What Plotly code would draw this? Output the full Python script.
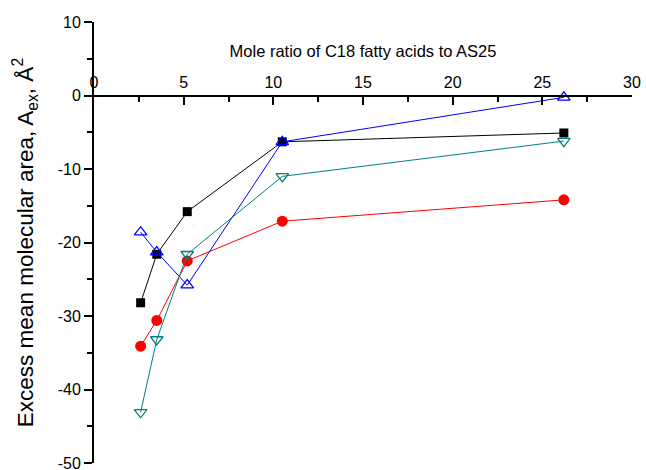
import plotly.graph_objects as go

ratio = [2.6, 3.5, 5.2, 10.5, 26.2]
series_black = [-28.2, -21.6, -15.8, -6.3, -5.1]
series_red = [-34.1, -30.6, -22.5, -17.1, -14.2]
series_blue = [-18.6, -21.3, -25.8, -6.3, -0.25]
series_teal = [-43.1, -33.2, -21.6, -11.0, -6.2]

x_ticks = [0, 5, 10, 15, 20, 25, 30]
x_tick_labels = ["0", "5", "10", "15", "20", "25", "30"]
y_ticks = [-50, -40, -30, -20, -10, 0, 10]
y_tick_labels = ["-50", "-40", "-30", "-20", "-10", "0", "10"]

FONT = "Liberation Sans, Arial, sans-serif"

fig = go.Figure()
fig.add_trace(go.Scatter(x=ratio, y=series_black, mode="lines+markers",
                         line=dict(color="#000000", width=1),
                         marker=dict(symbol="square", size=9, color="#000000")))
fig.add_trace(go.Scatter(x=ratio, y=series_red, mode="lines+markers",
                         line=dict(color="#ff0000", width=1),
                         marker=dict(symbol="circle", size=11, color="#ff0000")))
fig.add_trace(go.Scatter(x=ratio, y=series_blue, mode="lines+markers",
                         line=dict(color="#0000ff", width=1),
                         marker=dict(symbol="triangle-up-open", size=11, color="#0000ff",
                                     line=dict(width=1.3))))
fig.add_trace(go.Scatter(x=ratio, y=series_teal, mode="lines+markers",
                         line=dict(color="#008080", width=1),
                         marker=dict(symbol="triangle-down-open", size=11, color="#008080",
                                     line=dict(width=1.3))))

fig.update_layout(
    width=646, height=470,
    margin=dict(l=94, r=14, t=22, b=7),
    paper_bgcolor="white", plot_bgcolor="white",
    showlegend=False,
    font=dict(family=FONT, size=16, color="black"),
    xaxis=dict(
        range=[0, 30], tickvals=x_ticks, ticktext=x_tick_labels,
        side="top", anchor="free", position=50 / 60, automargin=False,
        ticklabeloverflow="allow",
        showgrid=False, zeroline=False,
        showline=True, linecolor="black", linewidth=2,
        ticks="inside", ticklen=8, tickwidth=2, tickcolor="black",
        minor=dict(dtick=2.5, tick0=0, ticks="inside", ticklen=5, tickwidth=2,
                   tickcolor="black", showgrid=False),
        tickfont=dict(family=FONT, size=16),
        title=dict(text="Mole ratio of C18 fatty acids to AS25",
                   font=dict(family=FONT, size=16.5), standoff=11),
    ),
    yaxis=dict(
        range=[-50, 10], tickvals=y_ticks, ticktext=y_tick_labels, automargin=False,
        ticklabeloverflow="allow",
        showgrid=False, zeroline=False,
        showline=True, linecolor="black", linewidth=2,
        ticks="outside", ticklen=8, tickwidth=2, tickcolor="black",
        minor=dict(dtick=5, tick0=0, ticks="outside", ticklen=5, tickwidth=2,
                   tickcolor="black", showgrid=False),
        tickfont=dict(family=FONT, size=16),
        title=dict(text="Excess mean molecular area, A<sub>ex</sub>, Å<sup>2</sup>",
                   font=dict(family=FONT, size=22.5), standoff=18),
    ),
)

fig.write_html("out.html",
               config={"displayModeBar": False},
               post_script="document.body.style.margin='0';document.body.style.overflow='hidden';")
